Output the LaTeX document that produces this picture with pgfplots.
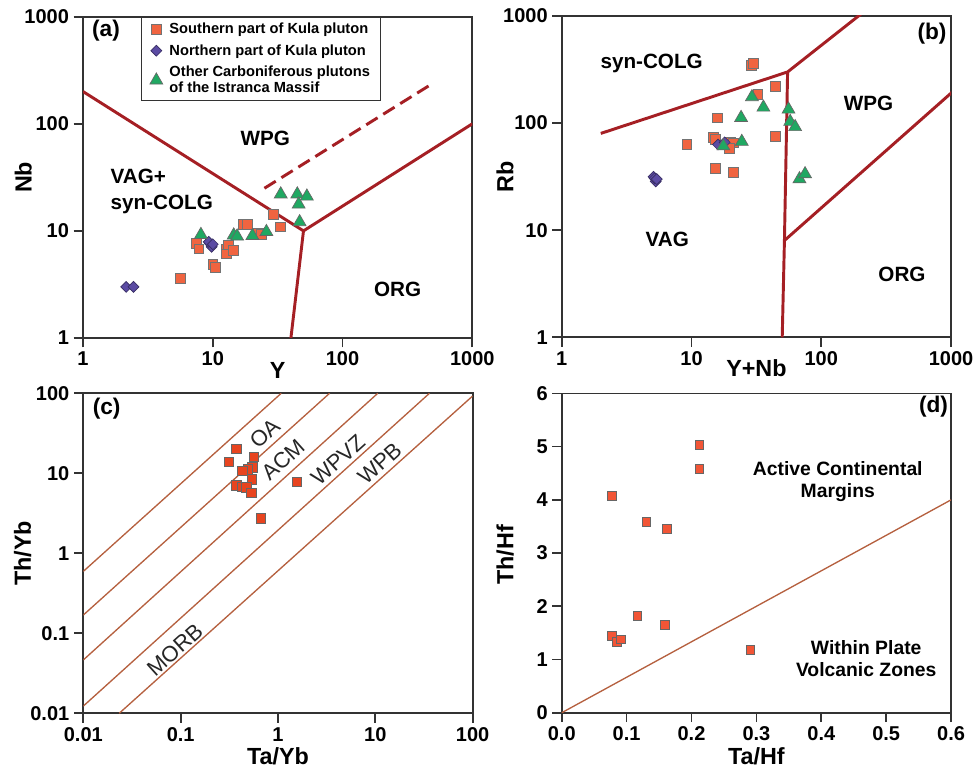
\documentclass[border=0pt]{standalone}
\usepackage{pgfplots}
\pgfplotsset{compat=1.18}
\usepackage{fontspec}
\setmainfont{Liberation Sans}

\definecolor{bound}{HTML}{A51F24}
\definecolor{thinl}{HTML}{B5603F}
\definecolor{sq}{HTML}{F06440}
\definecolor{sqc}{HTML}{E8441F}
\definecolor{tri}{HTML}{20A862}
\definecolor{dia}{HTML}{5B4BA3}
\definecolor{axisc}{HTML}{333333}

\newcommand\plab{\fontsize{17}{19}\selectfont\bfseries}
\newcommand\reg{\fontsize{15.5}{19.5}\selectfont\bfseries}
\newcommand\alab{\fontsize{17.5}{20}\selectfont\bfseries}

\pgfplotsset{
  panel/.style={
    scale only axis, anchor=south west,
    width=292pt, height=241pt,
    axis line style={axisc, line width=1.3pt},
    every tick/.style={axisc, line width=1.3pt},
    tick align=outside, major tick length=7pt, minor tick length=0pt,
    xtick pos=bottom, ytick pos=left,
    ticklabel style={font=\fontsize{15}{17}\selectfont\bfseries},
    clip mode=individual,
  },
  bndline/.style={color=bound, line width=2.2pt, mark=none},
  thinline/.style={color=thinl, line width=1pt, mark=none},
}

\begin{document}
\begin{tikzpicture}
\useasboundingbox (0,0) rectangle (730.5pt,578.25pt);

% (a) Nb - Y
\begin{axis}[panel, at={(62.25pt,324.75pt)},
  xmode=log, ymode=log, xmin=1, xmax=1000, ymin=1, ymax=1000,
  xtick={1,10,100,1000}, xticklabels={1,10,100,1000},
  ytick={1,10,100,1000}, yticklabels={1,10,100,1000},
  legend cell align=left,
  legend style={at={(0.15,0.998)}, anchor=north west, draw=axisc, line width=0.7pt,
    font=\fontsize{11}{12.5}\selectfont\bfseries, row sep=2.5pt, column sep=3pt,
    cells={align=left}, inner xsep=6pt, inner ysep=2pt}]
\addplot[bndline, forget plot] coordinates {(1,200)(50,10)(1000,100)};
\addplot[bndline, forget plot] coordinates {(50,10)(40,1)};
\addplot[bndline, forget plot, dash pattern=on 10pt off 5pt] coordinates {(25,25)(500,240)};
\addplot[only marks, mark=square*, mark size=3.7pt,
  mark options={fill=sq, draw=black!55, line width=0.5pt}]
  coordinates {(5.6,3.6)(7.5,7.7)(7.8,6.8)(10,4.9)(10.4,4.6)(12.7,6.8)(13.1,7.4)
  (12.7,6.1)(14.3,6.6)(17.1,11.5)(18.4,11.5)(22.3,9.4)(23.5,9.2)(29.1,14.3)(33.4,10.9)};
\addlegendentry{Southern part of Kula pluton}
\addplot[only marks, mark=square*, mark size=2.9pt,
  mark options={fill=dia, draw=dia!60!black, line width=0.5pt, rotate=45}]
  coordinates {(2.15,3)(2.45,3)(9.5,7.6)(9.8,7.1)(9.3,7.9)(10,7.5)};
\addlegendentry{Northern part of Kula pluton}
\addplot[only marks, mark=triangle*, mark size=5.6pt,
  mark options={fill=tri, draw=black!60, line width=0.5pt}]
  coordinates {(8.1,9.2)(14.5,9.1)(15.4,8.9)(20.2,9.0)(25.9,9.8)(33.4,22)
  (44.8,22)(53.1,21)(45.9,17.7)(46.7,12.1)};
\addlegendentry{Other Carboniferous plutons\\of the Istranca Massif}
\node[font=\plab] at (rel axis cs:0.059,0.957) {(a)};
\node[font=\reg] at (rel axis cs:0.468,0.620) {WPG};
\node[font=\reg, anchor=west, align=left] at (rel axis cs:0.059,0.456) {VAG+\\syn-COLG};
\node[font=\reg] at (rel axis cs:0.808,0.151) {ORG};
\node[font=\alab, xshift=-44.8pt, rotate=90] at (rel axis cs:0,0.5) {Nb};
\node[font=\alab, yshift=-24pt] at (rel axis cs:0.5,0) {Y};
\end{axis}

% (b) Rb - (Y+Nb)
\begin{axis}[panel, at={(421.3pt,325.3pt)},
  xmode=log, ymode=log, xmin=1, xmax=1000, ymin=1, ymax=1000,
  xtick={1,10,100,1000}, xticklabels={1,10,100,1000},
  ytick={1,10,100,1000}, yticklabels={1,10,100,1000}]
\addplot[bndline] coordinates {(2,80)(55,300)(400,2000)};
\addplot[bndline] coordinates {(55,300)(52,8)(50,1)};
\addplot[bndline] coordinates {(52,8)(2000,400)};
\addplot[only marks, mark=square*, mark size=3.7pt,
  mark options={fill=sq, draw=black!55, line width=0.5pt}]
  coordinates {(29,345)(30,360)(44,222)(32.4,186)(15.8,112)(9.2,63.6)(14.8,73.4)
  (15.2,70.3)(19.8,66.8)(21,65.3)(19.6,58)(44,75.5)(15.2,37.7)(21,34.6)};
\addplot[only marks, mark=square*, mark size=2.9pt,
  mark options={fill=dia, draw=dia!60!black, line width=0.5pt, rotate=45}]
  coordinates {(5.1,31.5)(5.3,28.5)(5.2,30.5)(5.4,30)(16,63)(18,66)};
\addplot[only marks, mark=triangle*, mark size=5.6pt,
  mark options={fill=tri, draw=black!60, line width=0.5pt}]
  coordinates {(29.2,175)(35.8,140)(24.1,112)(55.9,134)(57.6,103)(62.9,92)
  (24.4,67)(17.6,61)(67.9,30)(75,33.4)};
\node[font=\plab] at (rel axis cs:0.951,0.945) {(b)};
\node[font=\reg] at (rel axis cs:0.231,0.852) {syn-COLG};
\node[font=\reg] at (rel axis cs:0.788,0.728) {WPG};
\node[font=\reg] at (rel axis cs:0.271,0.305) {VAG};
\node[font=\reg] at (rel axis cs:0.874,0.196) {ORG};
\node[font=\alab, xshift=-42.5pt, rotate=90] at (rel axis cs:0,0.5) {Rb};
\node[font=\alab, yshift=-23.3pt] at (rel axis cs:0.5,0) {Y+Nb};
\end{axis}

% (c) Th/Yb - Ta/Yb
\begin{axis}[panel, at={(62.5pt,43.3pt)}, height=240pt,
  xmode=log, ymode=log, xmin=0.01, xmax=100, ymin=0.01, ymax=100,
  xtick={0.01,0.1,1,10,100}, xticklabels={0.01,0.1,1,10,100},
  ytick={0.01,0.1,1,10,100}, yticklabels={0.01,0.1,1,10,100}]
\addplot[thinline] coordinates {(0.01,0.594)(1.08,100)};
\addplot[thinline] coordinates {(0.01,0.169)(3.39,100)};
\addplot[thinline] coordinates {(0.01,0.0464)(10.6,100)};
\addplot[thinline] coordinates {(0.01,0.0123)(36,100)};
\addplot[thinline] coordinates {(0.0234,0.01)(100,92.5)};
\addplot[only marks, mark=square*, mark size=3.5pt,
  mark options={fill=sqc, draw=black!60, line width=0.5pt}]
  coordinates {(0.374,20.1)(0.314,14)(0.563,15.9)(0.546,11.9)(0.492,11.2)
  (0.431,10.8)(0.541,8.4)(0.374,7.1)(0.431,6.8)(0.474,6.7)(0.533,5.7)(1.567,7.85)(0.665,2.74)};
\node[font=\plab] at (rel axis cs:0.06,0.953) {(c)};
\begin{scope}[every node/.style={font=\fontsize{16.5}{18}\selectfont, text=black!85, rotate=42}]
\node at (rel axis cs:0.466,0.875) {OA};
\node at (rel axis cs:0.513,0.792) {ACM};
\node at (rel axis cs:0.654,0.792) {WPVZ};
\node at (rel axis cs:0.761,0.781) {WPB};
\node at (rel axis cs:0.235,0.198) {MORB};
\end{scope}
\node[font=\alab, xshift=-45.5pt, rotate=90] at (rel axis cs:0,0.5) {Th/Yb};
\node[font=\alab, yshift=-32.5pt] at (rel axis cs:0.5,0) {Ta/Yb};
\end{axis}

% (d) Th/Hf - Ta/Hf
\begin{axis}[panel, at={(421.3pt,43.7pt)}, height=239.5pt,
  xmin=0, xmax=0.6, ymin=0, ymax=6,
  xtick={0,0.1,0.2,0.3,0.4,0.5,0.6}, xticklabels={0.0,0.1,0.2,0.3,0.4,0.5,0.6},
  ytick={0,1,2,3,4,5,6}, yticklabels={0,1,2,3,4,5,6}]
\addplot[thinline] coordinates {(0,0)(0.6,4)};
\addplot[only marks, mark=square*, mark size=3.3pt,
  mark options={fill=sq!85!red, draw=black!60, line width=0.5pt}]
  coordinates {(0.212,5.03)(0.212,4.59)(0.0776,4.07)(0.1305,3.59)(0.162,3.45)
  (0.1166,1.82)(0.1588,1.65)(0.0776,1.44)(0.0848,1.335)(0.0915,1.38)(0.2905,1.18)};
\node[font=\plab] at (rel axis cs:0.955,0.96) {(d)};
\node[font=\fontsize{14.5}{16.5}\selectfont\bfseries, align=center] at (rel axis cs:0.709,0.725) {Active Continental\\Margins};
\node[font=\fontsize{14.5}{16.5}\selectfont\bfseries, align=center] at (rel axis cs:0.782,0.171) {Within Plate\\Volcanic Zones};
\node[font=\alab, xshift=-42.5pt, rotate=90] at (rel axis cs:0,0.494) {Th/Hf};
\node[font=\alab, yshift=-33pt] at (rel axis cs:0.5,0) {Ta/Hf};
\end{axis}
\end{tikzpicture}
\end{document}
